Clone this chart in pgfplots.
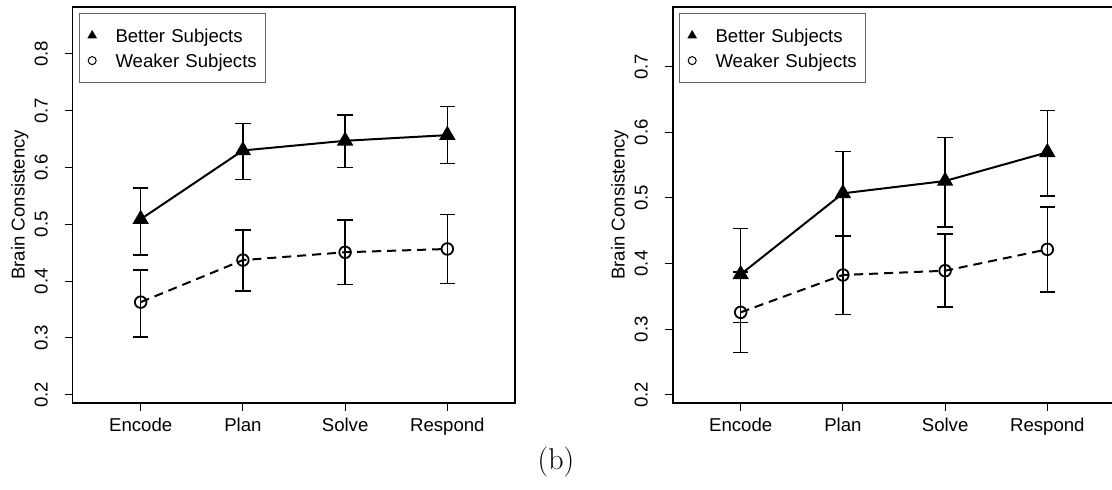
\documentclass[border=0pt]{standalone}
\usepackage{pgfplots}
\pgfplotsset{compat=1.18}
\usepackage{pgfplotstable}
\usepackage{fontspec}
\newfontfamily\arial{Liberation Sans}
\newcommand\af{\arial\fontsize{9.3}{11}\selectfont}

\pgfplotstableread{
x y lo hi
1 0.509 0.446 0.5635
2 0.630 0.579 0.677
3 0.647 0.600 0.6926
4 0.657 0.607 0.707
}\LB
\pgfplotstableread{
x y lo hi
1 0.363 0.302 0.4196
2 0.437 0.3826 0.490
3 0.4508 0.3944 0.5077
4 0.4566 0.396 0.5177
}\LW
\pgfplotstableread{
x y lo hi
1 0.3835 0.310 0.4537
2 0.507 0.4415 0.5704
3 0.5258 0.456 0.5918
4 0.5695 0.503 0.633
}\RB
\pgfplotstableread{
x y lo hi
1 0.3256 0.264 0.387
2 0.3825 0.322 0.4430
3 0.389 0.3337 0.445
4 0.4216 0.3566 0.486
}\RW

\pgfplotsset{
 brain/.style={
   scale only axis, width=221.15pt, height=198pt,
   xmin=0.335, xmax=4.662,
   xtick={1,2,3,4}, xticklabels={Encode,Plan,Solve,Respond},
   tick pos=left,
   tick align=outside,
   major tick length=4pt,
   major tick style={black, line width=0.5pt},
   axis line style={line width=0.8pt},
   minor tick num=0,
   tick label style={font=\af},
   /pgf/number format/assume math mode=true,
   yticklabel style={rotate=90, anchor=base, inner sep=0pt},
   yticklabel shift=8.5pt,
   xticklabel style={anchor=north, inner sep=0pt, text height=6.8pt, text depth=0pt},
   xticklabel shift=3.3pt,
   ylabel={Brain Consistency},
   every axis y label/.style={at={(axis description cs:-0.1085,0.5)}, rotate=90, anchor=base, font=\af},
   legend style={at={(0,1)}, anchor=north west, xshift=3.15pt, yshift=-3.3pt,
     draw=black!60, line width=0.5pt, inner xsep=0pt, inner ysep=7.55pt,
     /tikz/column sep=0pt, /tikz/row sep=5.8pt, font=\af,
     nodes={inner sep=0pt, text height=6.7pt, text depth=0pt}},
   legend cell align=left,
   legend image code/.code={\path[draw=none, fill=none] (0pt,-3.35pt) rectangle (18pt,3.35pt); \draw[#1] plot coordinates {(6.35pt,0pt)};},
   error bars/y dir=both,
   error bars/y explicit,
   error bars/error bar style={line width=0.75pt, solid},
   error bars/error mark options={mark size=3.9pt, line width=0.75pt, solid, rotate=90},
 },
 better/.style={black, line width=1pt, mark=triangle*, mark size=3.75pt, mark options={solid, fill=black}},
 weaker/.style={black, line width=1pt, dash pattern=on 4.5pt off 3pt, mark=o, mark size=2.9pt, mark options={solid, line width=0.9pt}},
}

\begin{document}
\begin{tikzpicture}
\begin{axis}[brain, at={(36.35pt,-3.35pt)}, anchor=north west,
  ymin=0.186, ymax=0.883, ytick={0.2,0.3,0.4,0.5,0.6,0.7,0.8}]
\addlegendimage{only marks, mark=triangle*, mark size=2.3pt, fill=black}
\addlegendentry[text width=75pt]{Better Subjects}
\addlegendimage{only marks, mark=o, mark size=2pt, line width=0.5pt}
\addlegendentry[text width=75pt]{Weaker Subjects}
\addplot[better, forget plot] table[x=x, y=y, y error plus expr=\thisrow{hi}-\thisrow{y}, y error minus expr=\thisrow{y}-\thisrow{lo}] {\LB};
\addplot[weaker, forget plot] table[x=x, y=y, y error plus expr=\thisrow{hi}-\thisrow{y}, y error minus expr=\thisrow{y}-\thisrow{lo}] {\LW};
\end{axis}
\begin{axis}[brain, at={(336.35pt,-3.35pt)}, anchor=north west,
  ymin=0.1878, ymax=0.7915, ytick={0.2,0.3,0.4,0.5,0.6,0.7}]
\addlegendimage{only marks, mark=triangle*, mark size=2.3pt, fill=black}
\addlegendentry[text width=75pt]{Better Subjects}
\addlegendimage{only marks, mark=o, mark size=2pt, line width=0.5pt}
\addlegendentry[text width=75pt]{Weaker Subjects}
\addplot[better, forget plot] table[x=x, y=y, y error plus expr=\thisrow{hi}-\thisrow{y}, y error minus expr=\thisrow{y}-\thisrow{lo}] {\RB};
\addplot[weaker, forget plot] table[x=x, y=y, y error plus expr=\thisrow{hi}-\thisrow{y}, y error minus expr=\thisrow{y}-\thisrow{lo}] {\RW};
\end{axis}
\node[font=\fontsize{15}{17}\selectfont] at (278pt,-231pt) {(b)};
\pgfresetboundingbox
\path[use as bounding box] (0pt,0pt) rectangle (556pt,-244.5pt);
\end{tikzpicture}
\end{document}
